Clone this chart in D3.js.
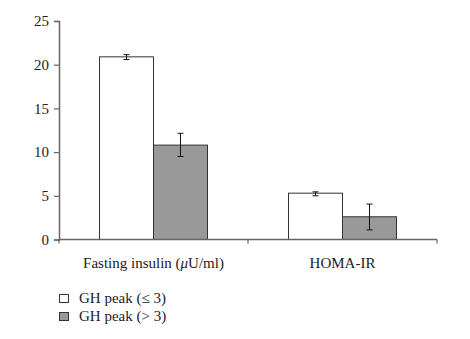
<!DOCTYPE html>
<html>
<head>
<meta charset="utf-8">
<script src="https://cdn.jsdelivr.net/npm/d3@7"></script>
<style>
  body { margin: 0; background: #fff; }
  text { font-family: "Liberation Serif", "DejaVu Serif", serif; fill: #222; }
</style>
</head>
<body>
<div id="chart"></div>
<script>
// data
const categories = ["Fasting insulin (\u03bcU/ml)", "HOMA-IR"];
const groups = ["GH peak (\u2264 3)", "GH peak (> 3)"];
const means = [[20.9, 10.8], [5.3, 2.6]];
const errLow = [[20.6, 9.5], [5.0, 1.1]];
const errHigh = [[21.15, 12.15], [5.45, 4.05]];
const yTicks = [0, 5, 10, 15, 20, 25];
const fills = ["#ffffff", "#999999"];

const width = 470, height = 339;
const margin = {top: 21, right: 33, bottom: 100, left: 59};
const fontSize = "15px";

const svg = d3.select("#chart").append("svg")
    .attr("width", width)
    .attr("height", height);

const y = d3.scaleLinear()
    .domain([0, 25])
    .range([239.5, margin.top]);

const x = d3.scaleBand()
    .domain(categories)
    .range([margin.left, 437])
    .paddingInner(0)
    .paddingOuter(0);

const xs = d3.scaleBand()
    .domain(d3.range(groups.length))
    .range([0, x.bandwidth()])
    .paddingInner(0)
    .paddingOuter(0.75);

const axisColor = "#666";

// y axis
const yAxis = svg.append("g")
    .attr("transform", `translate(${margin.left},0)`)
    .call(d3.axisLeft(y).tickValues(yTicks).tickSize(5).tickPadding(5).tickFormat(d3.format("d")));
yAxis.select(".domain").attr("stroke", axisColor).attr("stroke-width", 1.5);
yAxis.selectAll(".tick line").attr("stroke", axisColor).attr("stroke-width", 1.2);
yAxis.selectAll("text").style("font-size", fontSize).style("font-family", "Liberation Serif, serif").attr("fill", "#222");

// bars
categories.forEach((c, i) => {
  const g = svg.append("g").attr("transform", `translate(${x(c)},0)`);
  groups.forEach((grp, j) => {
    g.append("rect")
      .attr("x", xs(j))
      .attr("y", y(means[i][j]))
      .attr("width", xs.bandwidth())
      .attr("height", y(0) - y(means[i][j]))
      .attr("fill", fills[j])
      .attr("stroke", "#333")
      .attr("stroke-width", 1);
    const cx = xs(j) + xs.bandwidth() / 2;
    g.append("line")
      .attr("x1", cx).attr("x2", cx)
      .attr("y1", y(errLow[i][j])).attr("y2", y(errHigh[i][j]))
      .attr("stroke", "#111").attr("stroke-width", 1);
    [errLow[i][j], errHigh[i][j]].forEach(v => {
      g.append("line")
        .attr("x1", cx - 3).attr("x2", cx + 3)
        .attr("y1", y(v)).attr("y2", y(v))
        .attr("stroke", "#111").attr("stroke-width", 1);
    });
  });
});

// x axis
const xAxis = svg.append("g")
    .attr("transform", `translate(0,${y(0)})`);
xAxis.append("line")
    .attr("x1", margin.left).attr("x2", 437)
    .attr("stroke", axisColor).attr("stroke-width", 1.5);
const bounds = [margin.left, x(categories[1]), 437];
xAxis.selectAll(".xtick").data(bounds).join("line")
    .attr("class", "xtick")
    .attr("x1", d => d).attr("x2", d => d)
    .attr("y1", 0).attr("y2", 4)
    .attr("stroke", axisColor).attr("stroke-width", 1.2);
const labels = xAxis.selectAll(".xlabel").data(categories).join("text")
    .attr("class", "xlabel")
    .attr("x", d => x(d) + x.bandwidth() / 2)
    .attr("y", 28)
    .attr("text-anchor", "middle")
    .style("font-size", fontSize);
// italic mu in the unit
labels.each(function(d) {
  const t = d3.select(this);
  const k = d.indexOf("\u03bc");
  if (k < 0) { t.text(d); return; }
  t.append("tspan").text(d.slice(0, k));
  t.append("tspan").style("font-style", "italic").text("\u03bc");
  t.append("tspan").text(d.slice(k + 1));
});

// legend
const legend = svg.append("g").attr("transform", "translate(59,294)");
groups.forEach((grp, j) => {
  const row = legend.append("g").attr("transform", `translate(0,${j * 18})`);
  row.append("rect")
    .attr("x", 0.5).attr("y", 0.5)
    .attr("width", 9).attr("height", 8)
    .attr("fill", fills[j])
    .attr("stroke", "#333");
  row.append("text")
    .attr("x", 20).attr("y", 9)
    .style("font-size", fontSize)
    .text(grp);
});
</script>
</body>
</html>
